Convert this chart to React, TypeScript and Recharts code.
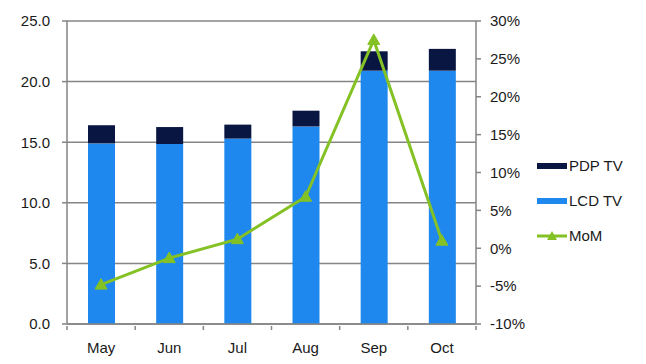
import React from 'react';
import { ComposedChart, Bar, Line, XAxis, YAxis, CartesianGrid, Legend } from 'recharts';

const months = ['May', 'Jun', 'Jul', 'Aug', 'Sep', 'Oct'];
const lcdTV = [14.9, 14.85, 15.3, 16.3, 20.9, 20.9];
const pdpTV = [1.5, 1.4, 1.15, 1.3, 1.6, 1.8];
const momPct = [-4.8, -1.3, 1.2, 6.8, 27.5, 1.0];
const leftTicks = [0, 5, 10, 15, 20, 25];
const rightTicks = [-10, -5, 0, 5, 10, 15, 20, 25, 30];

const data = months.map((m, i) => ({ month: m, lcd: lcdTV[i], pdp: pdpTV[i], mom: momPct[i] }));

const LCD = '#1f88ee';
const PDP = '#0a1642';
const GREEN = '#84c125';
const GRAY = '#858585';
const TEXT = '#1a1a1a';
const FONT = 'Liberation Sans, Arial, sans-serif';

const Tri = (props: any) => {
  const { cx, cy } = props;
  if (cx == null || cy == null) return null;
  const s = 6;
  return <polygon points={`${cx},${cy - s} ${cx - s},${cy + s * 0.75} ${cx + s},${cy + s * 0.75}`} fill={GREEN} stroke={GREEN} />;
};

const XTick = (props: any) => {
  const { x, y, payload, index } = props;
  const half = (476 - 67) / months.length / 2;
  return (
    <g>
      <line x1={x - half} y1={y - 6} x2={x - half} y2={y - 2} stroke={GRAY} strokeWidth={1.5} />
      {index === months.length - 1 && (
        <line x1={x + half} y1={y - 6} x2={x + half} y2={y - 2} stroke={GRAY} strokeWidth={1.5} />
      )}
      <text x={x} y={y + 21} textAnchor="middle" fill={TEXT} fontSize={15} fontFamily={FONT}>
        {payload.value}
      </text>
    </g>
  );
};

const LegendContent = () => {
  const items = [
    { name: 'PDP TV', color: PDP, type: 'bar' },
    { name: 'LCD TV', color: LCD, type: 'bar' },
    { name: 'MoM', color: GREEN, type: 'line' },
  ];
  return (
    <div style={{ fontFamily: FONT, fontSize: 15, color: TEXT }}>
      {items.map((it) => (
        <div key={it.name} style={{ display: 'flex', alignItems: 'center', height: 35 }}>
          <svg width={32} height={12} style={{ marginRight: 1 }}>
            {it.type === 'bar' ? (
              <rect x={1} y={3} width={30} height={6} fill={it.color} />
            ) : (
              <g>
                <line x1={1} y1={6} x2={31} y2={6} stroke={it.color} strokeWidth={3} />
                <polygon points="16,1 11,10 21,10" fill={it.color} />
              </g>
            )}
          </svg>
          <span>{it.name}</span>
        </div>
      ))}
    </div>
  );
};

export default function App() {
  return (
    <div style={{ position: 'absolute', left: 0, top: 0, background: '#fff' }}>
      <ComposedChart
        width={646}
        height={364}
        data={data}
        margin={{ top: 21, right: 110, bottom: 0, left: 0 }}
        style={{ fontFamily: FONT }}
      >
        <CartesianGrid vertical={false} stroke={GRAY} strokeWidth={1.5} yAxisId="left" />
        <XAxis
          dataKey="month"
          height={40}
          axisLine={{ stroke: GRAY, strokeWidth: 1.5 }}
          tickLine={false}
          tick={<XTick />}
          interval={0}
        />
        <YAxis
          yAxisId="left"
          width={67}
          domain={[0, 25]}
          ticks={leftTicks}
          tickFormatter={(v: number) => v.toFixed(1)}
          axisLine={{ stroke: GRAY, strokeWidth: 1.5 }}
          tickLine={{ stroke: GRAY, strokeWidth: 1.5 }}
          tickSize={5}
          tickMargin={12}
          tick={{ fill: TEXT, fontSize: 15, fontFamily: FONT }}
        />
        <YAxis
          yAxisId="right"
          orientation="right"
          width={60}
          domain={[-10, 30]}
          ticks={rightTicks}
          tickFormatter={(v: number) => `${v}%`}
          axisLine={{ stroke: GRAY, strokeWidth: 1.5 }}
          tickLine={{ stroke: GRAY, strokeWidth: 1.5 }}
          tickSize={5}
          tickMargin={9}
          tick={{ fill: TEXT, fontSize: 15, fontFamily: FONT, textAnchor: 'start' }}
        />
        <Bar yAxisId="left" dataKey="lcd" name="LCD TV" stackId="tv" fill={LCD} barSize={27} isAnimationActive={false} />
        <Bar yAxisId="left" dataKey="pdp" name="PDP TV" stackId="tv" fill={PDP} barSize={27} isAnimationActive={false} />
        <Line
          yAxisId="right"
          dataKey="mom"
          name="MoM"
          stroke={GREEN}
          strokeWidth={3}
          dot={<Tri />}
          activeDot={false}
          isAnimationActive={false}
        />
        <Legend
          layout="vertical"
          align="center"
          verticalAlign="middle"
          content={<LegendContent />}
          wrapperStyle={{ left: 536, top: 148, width: 110 }}
        />
      </ComposedChart>
    </div>
  );
}
